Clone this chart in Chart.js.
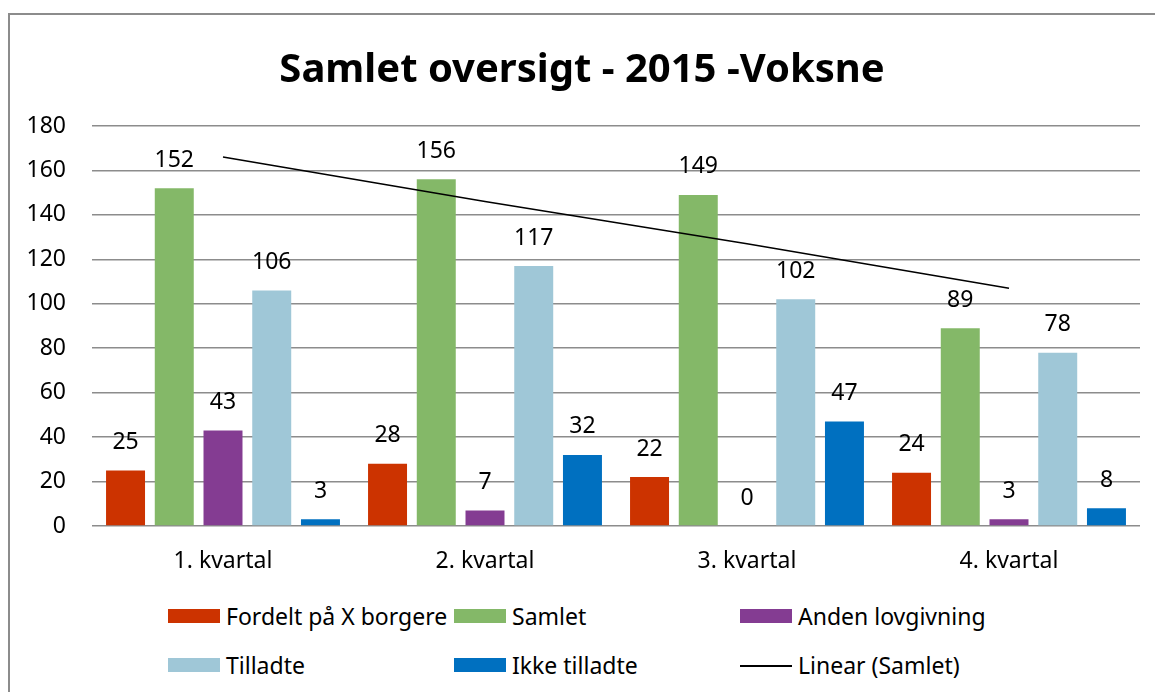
<!DOCTYPE html>
<html>
<head>
<meta charset="utf-8">
<script src="https://cdn.jsdelivr.net/npm/chart.js@4"></script>
<style>
  html, body { margin: 0; padding: 0; background: #fff; }
  body { width: 1155px; height: 692px; position: relative; overflow: hidden; font-family: "Noto Sans", sans-serif; }
  .frame { position: absolute; left: 8px; top: 13px; width: 1200px; height: 700px; border-left: 2px solid #8c8c8c; border-top: 2px solid #8c8c8c; }
  #chart { position: absolute; left: 0; top: 0; }
  .legend { position: absolute; left: 0; top: 0; }
  .legend .item { position: absolute; display: flex; align-items: center; font-size: 23px; color: #000; white-space: nowrap; }
  .legend .swatch { width: 52px; height: 14px; margin-right: 6px; }
  .legend .swatch.line { height: 2px; background: #000; margin-top: 1px; }
</style>
</head>
<body>
<div class="frame"></div>
<canvas id="chart" width="1155" height="580"></canvas>
<div class="legend" id="legend"></div>
<script>
const $ = document;

const categories = ["1. kvartal", "2. kvartal", "3. kvartal", "4. kvartal"];
const fordelt = [25, 28, 22, 24];
const samlet = [152, 156, 149, 89];
const andenLovgivning = [43, 7, 0, 3];
const tilladte = [106, 117, 102, 78];
const ikkeTilladte = [3, 32, 47, 8];
// trend line for Samlet
const linearSamlet = [166, 146, 127, 107];

const FONT = "'Noto Sans', sans-serif";

// numbers above the bars
const barValueLabels = {
  id: "barValueLabels",
  afterDatasetsDraw(chart) {
    const ctx = chart.ctx;
    ctx.save();
    ctx.font = "23px " + FONT;
    ctx.fillStyle = "#000";
    ctx.textAlign = "center";
    ctx.textBaseline = "middle";
    chart.data.datasets.forEach((ds, i) => {
      if (ds.type === "line") return;
      const meta = chart.getDatasetMeta(i);
      meta.data.forEach((bar, j) => {
        ctx.fillText(String(ds.data[j]), bar.x, bar.y - 28);
      });
    });
    ctx.restore();
  },
};

function bar(label, data, color) {
  return {
    label: label,
    data: data,
    backgroundColor: color,
    borderWidth: 0,
    categoryPercentage: 0.93,
    barPercentage: 0.8,
  };
}

const chartData = {
  labels: categories,
  datasets: [
    bar("Fordelt på X borgere", fordelt, "#cc3300"),
    bar("Samlet", samlet, "#84b868"),
    bar("Anden lovgivning", andenLovgivning, "#843c92"),
    bar("Tilladte", tilladte, "#9fc7d7"),
    bar("Ikke tilladte", ikkeTilladte, "#0070c0"),
    {
      type: "line",
      label: "Linear (Samlet)",
      data: linearSamlet,
      borderColor: "#000",
      borderWidth: 1.5,
      pointRadius: 0,
      fill: false,
      order: -1,
    },
  ],
};

const config = {
  type: "bar",
  data: chartData,
  options: {
    responsive: false,
    animation: false,
    // left padding nudges the title centre to the right, like the original
    layout: { padding: { left: 24, right: 15, top: 0, bottom: 4 } },
    plugins: {
      legend: { display: false },
      tooltip: { enabled: false },
      title: {
        display: true,
        text: "Samlet oversigt - 2015 -Voksne",
        color: "#000",
        font: { family: FONT, size: 40, weight: "bold" },
        padding: { top: 47, bottom: 31 },
      },
    },
    scales: {
      x: {
        grid: { display: false },
        border: { display: false },
        ticks: { color: "#000", font: { family: FONT, size: 23 }, padding: 14 },
        afterFit(scale) { scale.height = 50; },
      },
      y: {
        min: 0,
        max: 180,
        ticks: { stepSize: 20, color: "#000", font: { family: FONT, size: 23 }, padding: 26 },
        grid: { color: "#8c8c8c", lineWidth: 1.5, drawTicks: false },
        border: { display: false },
        afterFit(scale) { scale.width = 68; },
      },
    },
  },
  plugins: [barValueLabels],
};

const chart = new Chart($.getElementById("chart"), config);

// legend in three columns, like the original
function buildLegend() {
  const legendElem = $.getElementById("legend");
  const colX = [168, 454, 740];
  const rowY = [616, 665];
  chart.data.datasets.forEach((ds, i) => {
    const item = $.createElement("div");
    item.className = "item";
    item.style.left = colX[i % 3] + "px";
    item.style.top = rowY[Math.floor(i / 3)] - 16 + "px";
    item.style.height = "32px";
    const sw = $.createElement("span");
    sw.className = ds.type === "line" ? "swatch line" : "swatch";
    if (ds.type !== "line") sw.style.background = ds.backgroundColor;
    const txt = $.createElement("span");
    txt.textContent = ds.label;
    item.appendChild(sw);
    item.appendChild(txt);
    legendElem.appendChild(item);
  });
}
buildLegend();
</script>
</body>
</html>
